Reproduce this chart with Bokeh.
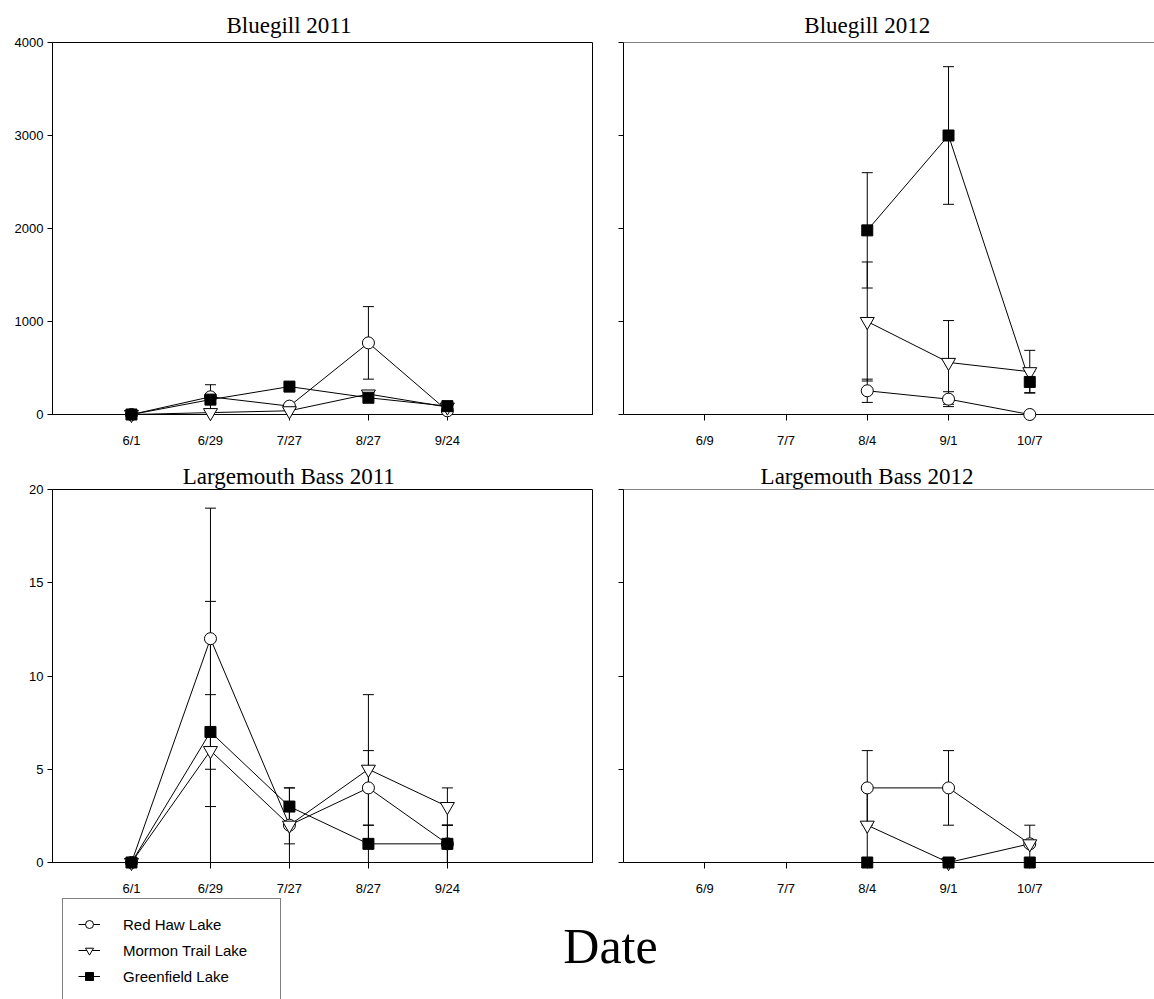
from bokeh.plotting import figure
from bokeh.models import (Range1d, FixedTicker, Whisker, TeeHead, ColumnDataSource,
                          Label, Span, Legend, LegendItem)
from bokeh.layouts import column, row
from bokeh.embed import file_html
from bokeh.resources import INLINE

NaN = float("nan")

# ---------------- data ----------------
dates_2011 = ["6/1", "6/29", "7/27", "8/27", "9/24"]
dates_2012 = ["6/9", "7/7", "8/4", "9/1", "10/7"]
lakes = ["Red Haw Lake", "Mormon Trail Lake", "Greenfield Lake"]

# Bluegill 2011
bg11_redhaw = [0, 190, 90, 770, 40]
bg11_redhaw_err = [0, 130, 0, 390, 0]
bg11_mormon = [0, 20, 40, 220, 80]
bg11_mormon_err = [0, 0, 0, 30, 0]
bg11_greenfield = [0, 160, 300, 180, 90]
bg11_greenfield_err = [0, 0, 0, 0, 20]

# Bluegill 2012
bg12_redhaw = [NaN, NaN, 255, 165, 0]
bg12_redhaw_err = [NaN, NaN, 125, 80, 0]
bg12_mormon = [NaN, NaN, 1000, 560, 460]
bg12_mormon_err = [NaN, NaN, 640, 450, 230]
bg12_greenfield = [NaN, NaN, 1980, 3000, 350]
bg12_greenfield_err = [NaN, NaN, 620, 740, 115]

# Largemouth Bass 2011
lmb11_redhaw = [0, 12, 2, 4, 1]
lmb11_redhaw_err = [0, 7, 2, 2, 1]
lmb11_mormon = [0, 6, 2, 5, 3]
lmb11_mormon_err = [0, 3, 1, 4, 1]
lmb11_greenfield = [0, 7, 3, 1, 1]
lmb11_greenfield_err = [0, 7, 1, 1, 1]

# Largemouth Bass 2012
lmb12_redhaw = [NaN, NaN, 4, 4, 1]
lmb12_redhaw_err = [NaN, NaN, 2, 2, 1]
lmb12_mormon = [NaN, NaN, 2, 0, 1]
lmb12_mormon_err = [NaN, NaN, 2, 0, 0]
lmb12_greenfield = [NaN, NaN, 0, 0, 0]
lmb12_greenfield_err = [NaN, NaN, 0, 0, 0]

bg_ticks = [0, 1000, 2000, 3000, 4000]
lmb_ticks = [0, 5, 10, 15, 20]

# ---------------- styling ----------------
MARKERS = [
    dict(marker="circle", size=12, fill_color="white"),
    dict(marker="inverted_triangle", size=14, fill_color="white"),
    dict(marker="square", size=11, fill_color="black"),
]
TICK_FONT = "Liberation Sans"
TITLE_FONT = "Liberation Serif"
TITLE_SIZE = 23

# Times-compatible advance widths (1/1000 em) for title centring
_W = {"B": 667, "l": 278, "u": 500, "e": 444, "g": 500, "i": 278, " ": 250,
      "2": 500, "0": 500, "1": 500, "L": 611, "a": 444, "r": 333, "m": 778,
      "o": 500, "t": 278, "h": 500, "s": 389}


def text_width(s, size):
    return sum(_W.get(c, 500) for c in s) * size / 1000.0


def make_panel(title, dates, series, errors, yticks, show_ylabels, width, height,
               b_left, b_top, b_bottom, xmax, full_box, title_standoff):
    p = figure(width=width, height=height, output_backend="svg", toolbar_location=None,
               x_range=Range1d(-1, xmax), y_range=Range1d(yticks[0], yticks[-1]),
               min_border_left=b_left, min_border_right=0, min_border_top=b_top,
               min_border_bottom=b_bottom)
    p.grid.visible = False
    p.background_fill_color = "white"
    p.border_fill_color = "white"
    if full_box:
        p.outline_line_color = "black"
        p.outline_line_width = 1
    else:
        p.outline_line_color = None
        p.add_layout(Span(location=yticks[-1], dimension="width", line_color="black",
                          line_width=1))

    xs = list(range(len(dates)))
    for k, (vals, errs) in enumerate(zip(series, errors)):
        wx, wu, wl = [], [], []
        for x, v, e in zip(xs, vals, errs):
            if v == v and e == e and e > 0:
                wx.append(x)
                wu.append(v + e)
                wl.append(max(yticks[0], v - e))
        if wx:
            src = ColumnDataSource(dict(x=wx, upper=wu, lower=wl))
            w = Whisker(base="x", upper="upper", lower="lower", source=src,
                        dimension="height", line_color="black", line_width=1,
                        level="glyph",
                        upper_head=TeeHead(size=11, line_color="black", line_width=1),
                        lower_head=TeeHead(size=11, line_color="black", line_width=1))
            p.add_layout(w)
        src = ColumnDataSource(dict(x=xs, y=vals))
        p.line("x", "y", source=src, line_color="black", line_width=1)
        m = MARKERS[k]
        p.scatter("x", "y", source=src, marker=m["marker"], size=m["size"],
                  fill_color=m["fill_color"], line_color="black", line_width=1,
                  level="overlay")

    for ax in (p.xaxis[0], p.yaxis[0]):
        ax.axis_line_color = "black"
        ax.axis_line_width = 1
        ax.major_tick_line_color = "black"
        ax.major_tick_in = 0
        ax.minor_tick_line_color = None
        ax.major_label_text_color = "black"
        ax.major_label_text_font = TICK_FONT
        ax.major_label_text_font_size = "13px"

    p.xaxis.ticker = FixedTicker(ticks=xs)
    p.xaxis.major_label_overrides = {i: d for i, d in enumerate(dates)}
    p.xaxis.major_tick_out = 6
    p.xaxis.major_label_standoff = 12

    p.yaxis.ticker = FixedTicker(ticks=yticks)
    p.yaxis.major_tick_out = 5
    p.yaxis.major_label_standoff = 4
    if not show_ylabels:
        p.yaxis.major_label_overrides = {t: "" for t in yticks}

    # title centred over the middle date tick
    frame_w = width - b_left
    centre = (2 - (-1)) / (xmax - (-1)) * frame_w
    p.title.text = title
    p.title.align = "left"
    p.title.offset = centre - text_width(title, TITLE_SIZE) / 2
    p.title.text_font = TITLE_FONT
    p.title.text_font_size = f"{TITLE_SIZE}px"
    p.title.text_font_style = "normal"
    p.title.text_color = "black"
    p.title.vertical_align = "bottom"
    p.title.standoff = title_standoff
    return p


W_LEFT = 593
W_RIGHT = 1154 - W_LEFT
H_TOP = 450
H_BOT = 448

p1 = make_panel("Bluegill 2011", dates_2011,
                [bg11_redhaw, bg11_mormon, bg11_greenfield],
                [bg11_redhaw_err, bg11_mormon_err, bg11_greenfield_err],
                bg_ticks, True, W_LEFT, H_TOP, 52, 42, 33, 5.85, True, 10)
p2 = make_panel("Bluegill 2012", dates_2012,
                [bg12_redhaw, bg12_mormon, bg12_greenfield],
                [bg12_redhaw_err, bg12_mormon_err, bg12_greenfield_err],
                bg_ticks, False, W_RIGHT, H_TOP, 30, 42, 33, 5.535, False, 10)
p3 = make_panel("Largemouth Bass 2011", dates_2011,
                [lmb11_redhaw, lmb11_mormon, lmb11_greenfield],
                [lmb11_redhaw_err, lmb11_mormon_err, lmb11_greenfield_err],
                lmb_ticks, True, W_LEFT, H_BOT, 52, 39, 33, 5.85, True, 2)
p4 = make_panel("Largemouth Bass 2012", dates_2012,
                [lmb12_redhaw, lmb12_mormon, lmb12_greenfield],
                [lmb12_redhaw_err, lmb12_mormon_err, lmb12_greenfield_err],
                lmb_ticks, False, W_RIGHT, H_BOT, 30, 39, 33, 5.535, False, 2)

# ---------------- footer: legend + shared x label ----------------
H_FOOT = 999 - H_TOP - H_BOT
foot = figure(width=1154, height=H_FOOT, output_backend="svg", toolbar_location=None,
              x_range=Range1d(0, 1), y_range=Range1d(0, 1),
              min_border_left=0, min_border_right=0, min_border_top=0, min_border_bottom=0)
foot.axis.visible = False
foot.grid.visible = False
foot.outline_line_color = None

items = []
for k, name in enumerate(lakes):
    src = ColumnDataSource(dict(x=[NaN], y=[NaN]))
    lr = foot.line("x", "y", source=src, line_color="black", line_width=1)
    m = MARKERS[k]
    sr = foot.scatter("x", "y", source=src, marker=m["marker"], size=m["size"],
                      fill_color=m["fill_color"], line_color="black", line_width=1)
    items.append(LegendItem(label=name, renderers=[lr, sr]))

LEG_PAD = 15
LEG_SPACING = 6
LEG_ROW = 20
leg_h = 2 * LEG_PAD + 3 * LEG_ROW + 2 * LEG_SPACING
legend = Legend(items=items, location=(62, H_FOOT - 2 - leg_h), margin=0,
                padding=LEG_PAD, spacing=LEG_SPACING, glyph_width=22,
                glyph_height=LEG_ROW, label_height=LEG_ROW, label_width=142,
                label_standoff=23, border_line_color="black", border_line_width=1,
                background_fill_color="white", background_fill_alpha=1,
                label_text_font=TICK_FONT, label_text_font_size="15px",
                label_text_color="black")
foot.add_layout(legend, "center")

foot.add_layout(Label(x=610, y=999 - 945, x_units="screen", y_units="screen",
                      text="Date", text_align="center", text_baseline="alphabetic",
                      text_font=TITLE_FONT, text_font_size="50px",
                      text_color="black"))

layout = column(row(p1, p2), row(p3, p4), foot)

with open("out.html", "w") as f:
    f.write(file_html(layout, INLINE))
